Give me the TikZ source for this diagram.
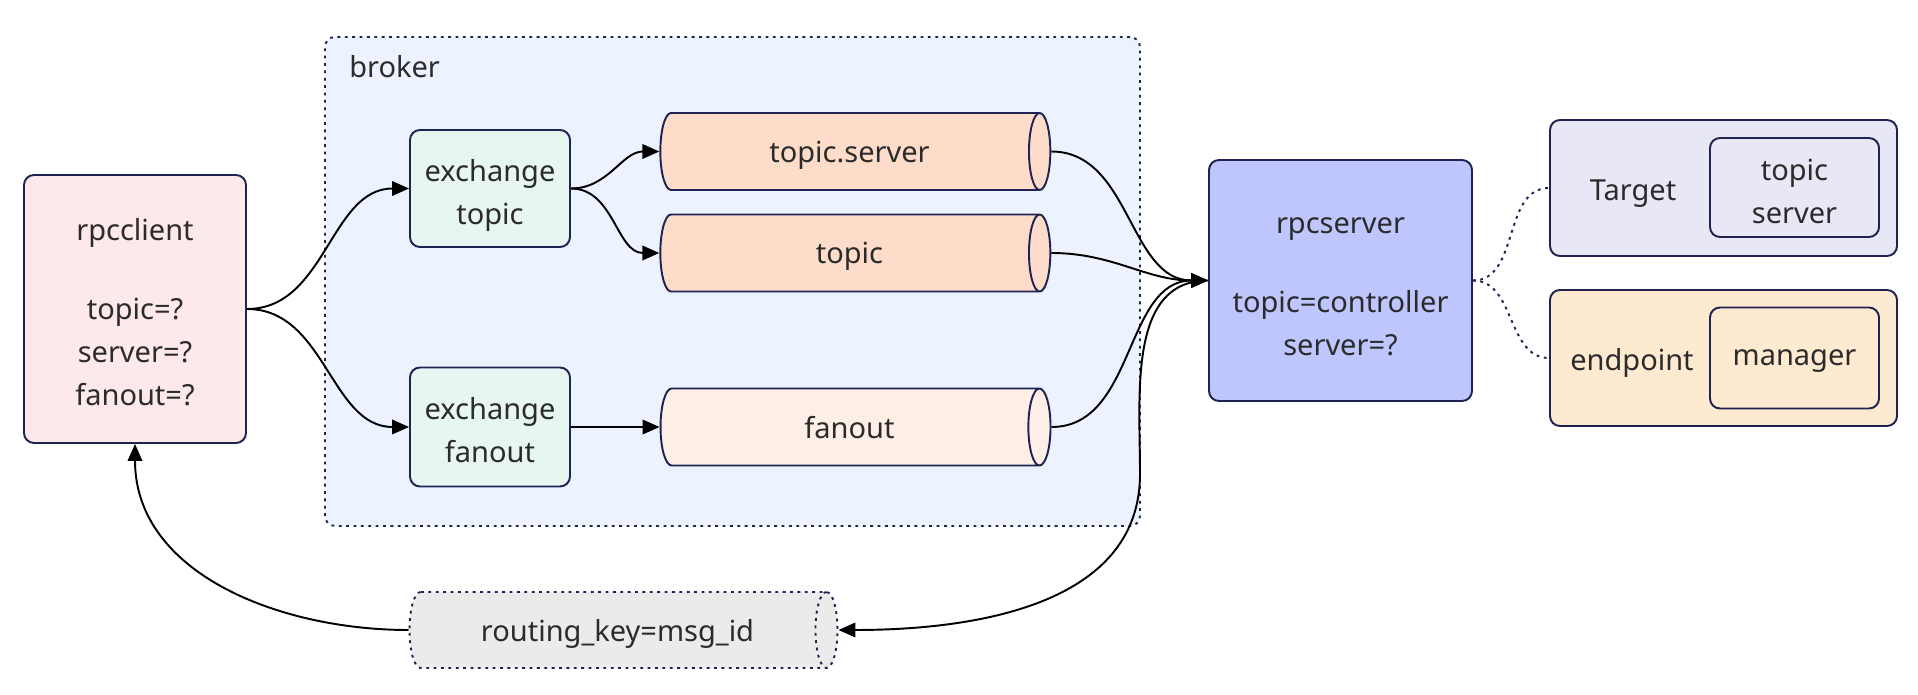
\documentclass[tikz,border=0pt]{standalone}
\usepackage{fontspec}
\setmainfont{Noto Sans}
\usetikzlibrary{arrows.meta,positioning,calc,shapes.geometric}

\definecolor{edge}{HTML}{1E2352}
\definecolor{ink}{HTML}{2B2B2B}
\definecolor{brokerbg}{HTML}{ECF2FE}
\definecolor{clientbg}{HTML}{FDE9EA}
\definecolor{exchbg}{HTML}{E8F6F2}
\definecolor{queuebg}{HTML}{FDDDC9}
\definecolor{fanbg}{HTML}{FEEFE6}
\definecolor{serverbg}{HTML}{BEC6FD}
\definecolor{targetbg}{HTML}{E7E7F5}
\definecolor{endpbg}{HTML}{FEEAD0}
\definecolor{routebg}{HTML}{EBEBEB}

% first line of a stacked label
\newcommand{\hitop}{\rule{0pt}{16pt}}

\begin{document}
\begin{tikzpicture}[
  every node/.style={font=\fontsize{16.5}{24.5}\selectfont,text=ink},
  box/.style={draw=edge,line width=1.1pt,rounded corners=0.2cm,align=center,inner sep=0pt,text depth=-6pt},
  pipe/.style={cylinder,shape border rotate=0,aspect=1,draw=edge,line width=1.1pt,
    minimum height=7.8cm,minimum width=1.54cm,inner sep=0pt,text depth=-6pt},
  ar/.style={-{Triangle[length=3.4mm,width=2.9mm]},line width=1.1pt},
  dots/.style={draw=edge,line width=1.1pt,dash pattern=on 1.6pt off 2.6pt}]

  \useasboundingbox (0,0) rectangle (38.36,13.88);

  % broker group
  \node[box,dots,fill=brokerbg,minimum width=16.3cm,minimum height=9.78cm] (broker) at (14.65,8.25) {};
  \node[anchor=west,inner sep=0pt] (brokerlbl) at (6.98,12.54) {broker};

  \node[box,fill=clientbg,minimum width=4.44cm,minimum height=5.36cm] (client) at (2.7,7.70)
    {\hitop rpcclient\\[0.72cm]topic=?\\server=?\\fanout=?};

  \node[box,fill=exchbg,minimum width=3.2cm,minimum height=2.34cm] (xtopic) at (9.8,10.11) {\hitop exchange\\topic};
  \node[box,fill=exchbg,minimum width=3.2cm,minimum height=2.38cm] (xfanout) at (9.8,5.34) {\hitop exchange\\fanout};

  \node[pipe,fill=queuebg] (qserver) at (16.99,10.85) {topic.server};
  \node[pipe,fill=queuebg] (qtopic) at (16.99,8.82) {topic};
  \node[pipe,fill=fanbg] (qfanout) at (16.99,5.34) {fanout};

  \node[box,fill=serverbg,minimum width=5.26cm,minimum height=4.82cm] (server) at (26.81,8.27)
    {\hitop rpcserver\\[0.72cm]topic=controller\\server=?};

  % target and endpoint
  \node[box,fill=targetbg,minimum width=6.94cm,minimum height=2.72cm] (target) at (34.47,10.12) {};
  \node[text depth=-2pt] (targetlbl) at (32.66,10.08) {Target};
  \node[box,fill=targetbg,minimum width=3.38cm,minimum height=1.98cm] (tgtin) at (35.89,10.13) {\hitop topic\\server};

  \node[box,fill=endpbg,minimum width=6.94cm,minimum height=2.72cm] (endpoint) at (34.47,6.72) {};
  \node[text depth=-2pt] (endplbl) at (32.64,6.70) {endpoint};
  \node[box,fill=endpbg,minimum width=3.38cm,minimum height=2.02cm] (epin) at (35.89,6.72) {manager};

  \node[pipe,dots,fill=routebg,minimum height=8.56cm,minimum width=1.52cm] (route) at (12.35,1.28)
    {routing\_key=msg\_id};

  \coordinate (via) at (22.8,4.4);

  % links
  \draw[ar] (client.east) to[out=0,in=180] (xtopic.west);
  \draw[ar] (client.east) to[out=0,in=180] (xfanout.west);
  \draw[ar] (xtopic.east) to[out=0,in=180] (qserver.west);
  \draw[ar] (xtopic.east) to[out=0,in=180] (qtopic.west);
  \draw[ar] (xfanout.east) -- (qfanout.west);
  \draw[ar] (qserver.east) to[out=0,in=180] (server.west);
  \draw[ar] (qtopic.east) to[out=0,in=180] (server.west);
  \draw[ar] (qfanout.east) to[out=0,in=180] (server.west);
  \draw[ar] (server.west) to[out=180,in=90] (via) to[out=-90,in=0] (route.east);
  \draw[ar] (route.west) to[out=180,in=-90] (client.south);
  \draw[dots] (server.east) to[out=0,in=180] (target.west);
  \draw[dots] (server.east) to[out=0,in=180] (endpoint.west);
\end{tikzpicture}
\end{document}
